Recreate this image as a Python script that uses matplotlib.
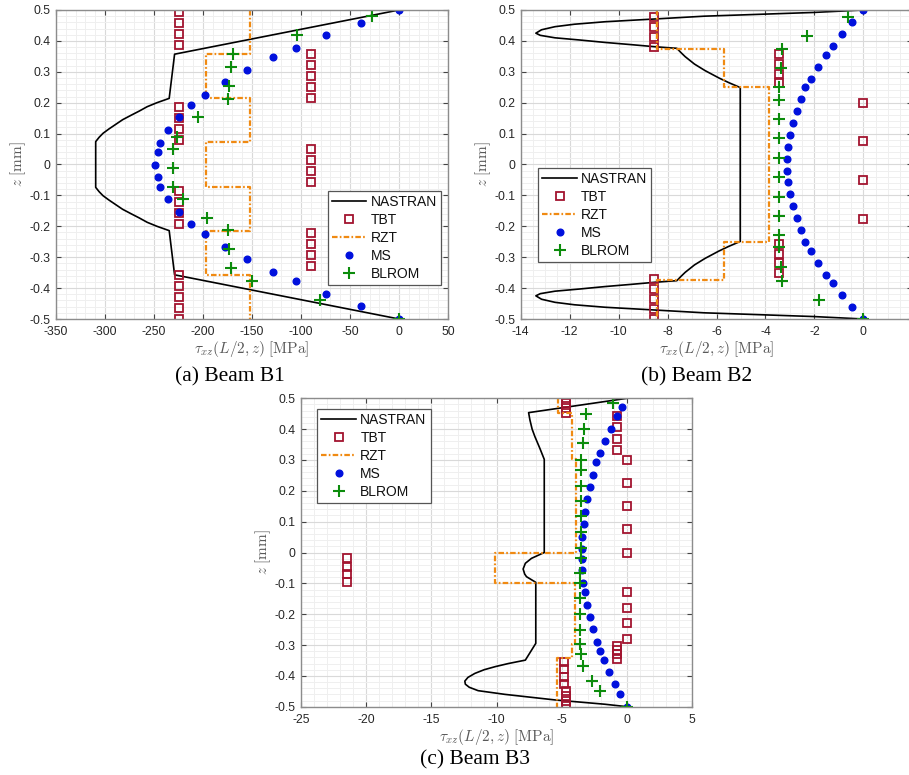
import numpy as np
import matplotlib
matplotlib.use('Agg')
import matplotlib.pyplot as plt
from matplotlib.ticker import MultipleLocator, FuncFormatter

plt.rcParams['font.family'] = ['Liberation Sans', 'DejaVu Sans']
plt.rcParams['mathtext.fontset'] = 'cm'
plt.rcParams['axes.unicode_minus'] = False
plt.rcParams['lines.scale_dashes'] = False

# ---------------- Beam B1 ----------------
a_nas_z = [0.5, 0.357, 0.214, 0.200, 0.187, 0.173, 0.160, 0.145, 0.130, 0.115, 0.101, 0.088, 0.074,
           -0.074, -0.088, -0.101, -0.115, -0.130, -0.145, -0.160, -0.173, -0.187, -0.200, -0.214, -0.357, -0.5]
a_nas_tau = [0, -229, -234.5, -247, -257, -265, -273, -282, -289, -296, -302, -306, -309.5,
             -309.5, -306, -302, -296, -289, -282, -273, -265, -257, -247, -234.5, -229, 0]
a_tbt_z = [0.493, 0.457, 0.421, 0.386, 0.357, 0.322, 0.286, 0.250, 0.214,
           0.186, 0.150, 0.115, 0.079, 0.050, 0.015, -0.021, -0.057,
           -0.085, -0.120, -0.156, -0.192, -0.221, -0.256, -0.292, -0.327,
           -0.357, -0.393, -0.429, -0.464, -0.5]
a_tbt_tau = [-225, -225, -225, -225, -90, -90, -90, -90, -90,
             -225, -225, -225, -225, -90, -90, -90, -90,
             -225, -225, -225, -225, -90, -90, -90, -90,
             -225, -225, -225, -225, -225]
a_rzt_bounds = [0.5, 0.357, 0.214, 0.0714, -0.0714, -0.214, -0.357, -0.5]
a_rzt_vals = [-152, -197, -152, -197, -152, -197, -152]
a_ms_z = [0.5, 0.459, 0.418, 0.377, 0.347, 0.306, 0.266, 0.224, 0.194, 0.153, 0.112, 0.071, 0.040, 0.0,
          -0.040, -0.072, -0.113, -0.153, -0.194, -0.225, -0.266, -0.305, -0.347, -0.377, -0.418, -0.458, -0.5]
a_ms_tau = [0, -39, -74, -105, -129, -155, -178, -198, -212, -225, -235.5, -244, -246, -248.5,
            -246, -244, -235.5, -225, -212, -198, -178, -155, -129, -105, -74, -39, 0]
a_bl_z = [0.481, 0.418, 0.357, 0.3145, 0.254, 0.213, 0.153, 0.090, 0.051, -0.010, -0.072, -0.113,
          -0.174, -0.213, -0.2745, -0.335, -0.377, -0.438, -0.5]
a_bl_tau = [-27.5, -103.7, -169.2, -171.6, -173.7, -174.7, -205.3, -226.3, -231.1, -231.1, -231.1, -220.9,
            -196.4, -174.7, -173.3, -171.3, -149.5, -80.2, 0]

# ---------------- Beam B2 ----------------
b_nas_z = [0.5, 0.492, 0.484, 0.480, 0.471, 0.462, 0.454, 0.446, 0.436, 0.425, 0.418, 0.410, 0.403, 0.395,
           0.388, 0.381, 0.376, 0.362, 0.349, 0.325, 0.304, 0.280, 0.265, 0.249,
           -0.249, -0.265, -0.280, -0.304, -0.325, -0.349, -0.362, -0.376, -0.381, -0.388, -0.395, -0.403,
           -0.410, -0.418, -0.425, -0.436, -0.446, -0.454, -0.462, -0.471, -0.480, -0.484, -0.492, -0.5]
b_nas_tau = [0, -2.05, -5.0, -6.5, -8.5, -10.55, -11.8, -12.6, -13.15, -13.38, -13.2, -12.6, -11.6, -10.55,
             -9.5, -8.5, -7.62, -7.45, -7.28, -6.9, -6.47, -5.9, -5.5, -5.03,
             -5.03, -5.5, -5.9, -6.47, -6.9, -7.28, -7.45, -7.62, -8.5, -9.5, -10.55, -11.6,
             -12.6, -13.2, -13.38, -13.15, -12.6, -11.8, -10.55, -8.5, -6.5, -5.0, -2.05, 0]
b_tbt_z = [0.476, 0.444, 0.413, 0.381, 0.356, 0.325, 0.294, 0.263, 0.200, 0.075, -0.050, -0.175,
           -0.257, -0.289, -0.319, -0.350, -0.372, -0.404, -0.436, -0.468, -0.5]
b_tbt_tau = [-8.55, -8.55, -8.55, -8.55, -3.43, -3.43, -3.43, -3.43, 0, 0, 0, 0,
             -3.43, -3.43, -3.43, -3.43, -8.55, -8.55, -8.55, -8.55, -8.55]
b_rzt_bounds = [0.5, 0.375, 0.25, -0.25, -0.375, -0.5]
b_rzt_vals = [-8.44, -5.69, -3.85, -5.69, -8.44]
b_ms_z = [0.5, 0.461, 0.422, 0.385, 0.354, 0.317, 0.278, 0.250, 0.211, 0.173, 0.134, 0.0965, 0.058, 0.019,
          -0.020, -0.058, -0.0965, -0.135, -0.173, -0.212, -0.250, -0.279, -0.318, -0.356, -0.385, -0.423, -0.461, -0.5]
b_ms_tau = [0, -0.45, -0.86, -1.23, -1.53, -1.84, -2.12, -2.38, -2.55, -2.72, -2.89, -3.0, -3.08, -3.10,
            -3.10, -3.08, -3.0, -2.89, -2.72, -2.55, -2.38, -2.12, -1.84, -1.53, -1.23, -0.86, -0.45, 0]
b_bl_z = [0.478, 0.416, 0.374, 0.311, 0.25, 0.209, 0.146, 0.085, 0.022, -0.040, -0.104, -0.167, -0.228,
          -0.268, -0.331, -0.376, -0.437, -0.5]
b_bl_tau = [-0.61, -2.32, -3.31, -3.38, -3.43, -3.43, -3.43, -3.43, -3.43, -3.43, -3.43, -3.43, -3.43,
            -3.43, -3.38, -3.31, -1.81, 0]

# ---------------- Beam B3 ----------------
c_nas_z = [0.5, 0.4535, 0.43, 0.40, 0.376, 0.338, 0.302, 0.0, -0.019, -0.035, -0.0535, -0.07, -0.0785,
           -0.0967, -0.2946, -0.349, -0.36, -0.37, -0.38, -0.392, -0.405, -0.417, -0.427, -0.437, -0.448,
           -0.460, -0.478, -0.492, -0.5]
c_nas_tau = [0, -7.55, -7.45, -7.28, -7.07, -6.69, -6.35, -6.35, -7.33, -7.8, -7.97, -7.85, -7.71,
             -7.0, -7.0, -7.8, -9.1, -10.1, -10.95, -11.67, -12.2, -12.44, -12.4, -12.1, -11.42,
             -9.37, -5.54, -1.71, 0]
c_tbt_z = [0.5, 0.484, 0.468, 0.453, 0.443, 0.406, 0.368, 0.333, 0.3, 0.225, 0.15, 0.075, 0.0,
           -0.019, -0.046, -0.071, -0.095, -0.129, -0.179, -0.230, -0.280,
           -0.303, -0.316, -0.330, -0.344, -0.354, -0.379, -0.404, -0.428,
           -0.449, -0.465, -0.482, -0.499]
c_tbt_tau = [-4.70, -4.70, -4.70, -4.70, -0.77, -0.77, -0.77, -0.77, 0, 0, 0, 0, 0,
             -21.5, -21.5, -21.5, -21.5, 0, 0, 0, 0,
             -0.77, -0.77, -0.77, -0.77, -4.85, -4.85, -4.85, -4.85,
             -4.70, -4.70, -4.70, -4.70]
c_rzt_bounds = [0.5, 0.452, 0.302, 0.0, -0.1, -0.298, -0.343, -0.5]
c_rzt_vals = [-5.3, -4.26, -3.95, -10.14, -4.01, -4.26, -5.38]
c_ms_z = [0.473, 0.443, 0.4016, 0.3617, 0.3227, 0.2926, 0.2514, 0.2115, 0.1725, 0.1314, 0.0915, 0.0513,
          0.011, -0.020, -0.057, -0.098, -0.129, -0.170, -0.208, -0.249, -0.289, -0.3195, -0.349, -0.389,
          -0.4276, -0.459, -0.5]
c_ms_tau = [-0.36, -0.81, -1.25, -1.66, -2.04, -2.35, -2.61, -2.87, -3.07, -3.22, -3.34, -3.42,
            -3.47, -3.48, -3.45, -3.37, -3.24, -3.07, -2.86, -2.65, -2.32, -2.04, -1.79, -1.35,
            -0.89, -0.53, 0]
c_bl_z = [0.486, 0.449, 0.3995, 0.354, 0.300, 0.2676, 0.2167, 0.167, 0.118, 0.0675, 0.016, -0.019,
          -0.0675, -0.1, -0.1486, -0.2, -0.251, -0.298, -0.330, -0.367, -0.417, -0.449, -0.5]
c_bl_tau = [-1.07, -3.16, -3.29, -3.37, -3.50, -3.50, -3.50, -3.55, -3.55, -3.55, -3.50, -3.55,
            -3.63, -3.63, -3.63, -3.63, -3.63, -3.63, -3.55, -3.37, -2.68, -2.09, 0]

labels = ['NASTRAN', 'TBT', 'RZT', 'MS', 'BLROM']

W, H = 909, 775
fig = plt.figure(figsize=(W / 100, H / 100), dpi=100)


def rect(x0, y0, x1, y1):
    return [x0 / W, 1 - y1 / H, (x1 - x0) / W, (y1 - y0) / H]


def make_fmt(vmax_shown):
    def fmt(v, p):
        v = round(v, 8)
        if v > vmax_shown:
            return ''
        if v == 0:
            return '0'
        return '%g' % v
    return fmt


def step_path(bounds, vals):
    z = np.repeat(bounds, 2)[1:-1]
    t = np.repeat(vals, 2)
    return t, z


def panel(ax, xlim, xmaj, xmin, xshow, nas, tbt, rzt, ms, bl):
    ax.set_xlim(*xlim)
    ax.set_ylim(-0.5, 0.5)
    ax.xaxis.set_major_locator(MultipleLocator(xmaj))
    ax.xaxis.set_minor_locator(MultipleLocator(xmin))
    ax.yaxis.set_major_locator(MultipleLocator(0.1))
    ax.yaxis.set_minor_locator(MultipleLocator(0.02))
    ax.xaxis.set_major_formatter(FuncFormatter(make_fmt(xshow)))
    ax.yaxis.set_major_formatter(FuncFormatter(make_fmt(1)))
    ax.grid(which='minor', color='#efefef', lw=0.7)
    ax.grid(which='major', color='#d9d9d9', lw=0.8)
    ax.set_axisbelow(True)
    ax.tick_params(which='major', direction='in', top=True, right=True, length=3.5, width=0.8,
                   color='#444444', labelsize=8.8, labelcolor='#262626')
    ax.tick_params(axis='x', which='major', pad=5)
    ax.tick_params(axis='y', which='major', pad=4)
    ax.tick_params(which='minor', length=0)
    for s in ax.spines.values():
        s.set_color('#8c8c8c')
        s.set_linewidth(1.0)
    h = []
    h += ax.plot(nas[0], nas[1], color='black', lw=1.2)
    h += ax.plot(tbt[0], tbt[1], ls='none', marker='s', ms=5.5, mfc='none', mec='#a2142f', mew=1.3)
    rt, rz = step_path(rzt[1], rzt[0])
    h += ax.plot(rt, rz, color='#f08a12', lw=1.6, dashes=(4.0, 1.6, 1.2, 1.6))
    h += ax.plot(ms[0], ms[1], ls='none', marker='o', ms=4.8, color='#0010dd')
    h += ax.plot(bl[0], bl[1], ls='none', marker='+', ms=9, mew=1.5, color='#0c8c0c')
    ax.set_xlabel(r'$\tau_{xz}(L/2,z)\ [\mathrm{MPa}]$', fontsize=11, color='#595959', labelpad=1)
    ax.set_ylabel(r'$z\ [\mathrm{mm}]$', fontsize=11, color='#595959', labelpad=1)
    return h


def add_legend(ax, h, loc, anchor):
    leg = ax.legend(h, labels, loc=loc, bbox_to_anchor=anchor, borderaxespad=0, fancybox=False,
                    edgecolor='#555555', framealpha=1, fontsize=10, handlelength=2.5,
                    handletextpad=0.3, labelspacing=0.28, borderpad=0.3)
    leg.get_frame().set_linewidth(0.9)
    for t in leg.get_texts():
        t.set_color('#111111')


axa = fig.add_axes(rect(56, 10, 448, 319))
ha = panel(axa, (-350, 50), 50, 10, 100, (a_nas_tau, a_nas_z), (a_tbt_tau, a_tbt_z),
           (a_rzt_vals, a_rzt_bounds), (a_ms_tau, a_ms_z), (a_bl_tau, a_bl_z))
add_legend(axa, ha, 'lower right', ((441 - 56) / 392, (319 - 285) / 309))

axb = fig.add_axes(rect(520.7, 10, 912.3, 319))
hb = panel(axb, (-14, 2), 2, 0.5, 0, (b_nas_tau, b_nas_z), (b_tbt_tau, b_tbt_z),
           (b_rzt_vals, b_rzt_bounds), (b_ms_tau, b_ms_z), (b_bl_tau, b_bl_z))
add_legend(axb, hb, 'upper left', ((538 - 520.7) / 391.6, (319 - 168) / 309))

axc = fig.add_axes(rect(301, 398.3, 692.3, 706.7))
hc = panel(axc, (-25, 5), 5, 1, 100, (c_nas_tau, c_nas_z), (c_tbt_tau, c_tbt_z),
           (c_rzt_vals, c_rzt_bounds), (c_ms_tau, c_ms_z), (c_bl_tau, c_bl_z))
add_legend(axc, hc, 'upper left', ((317.3 - 301) / 391.3, (706.7 - 409) / 308.4))

cap_kw = dict(family=['Liberation Serif', 'DejaVu Serif'], fontsize=15.5, ha='center', va='baseline')
fig.text(230 / W, 1 - 381 / H, '(a) Beam B1', **cap_kw)
fig.text(697 / W, 1 - 381 / H, '(b) Beam B2', **cap_kw)
fig.text(475 / W, 1 - 764 / H, '(c) Beam B3', **cap_kw)

fig.savefig('out.png', dpi=100)
